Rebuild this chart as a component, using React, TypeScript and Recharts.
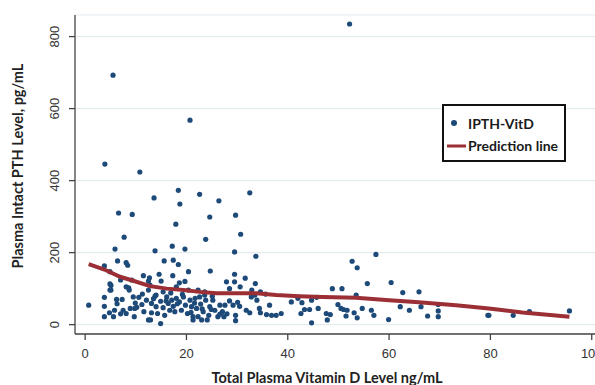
import React from "react";
import { ScatterChart, Scatter, XAxis, YAxis, CartesianGrid } from "recharts";

// Observed data points: total plasma vitamin D (ng/mL) and intact PTH (pg/mL)
const vitD: number[] = [
  52.2, 5.5, 20.7, 3.9, 10.8, 13.6, 18.4, 22.6, 26.4, 32.5,
  6.6, 9.3, 18.7, 24.6, 29.7, 17.9, 30.7, 7.7, 23.8, 33.7,
  5.9, 13.8, 17.2, 19.7, 29.5, 6.4, 8.1, 8.4, 15.6, 17.4,
  18.4, 3.8, 4.9, 20.4, 24.7, 4.9, 4.9, 7.0, 8.1, 9.2,
  8.6, 11.5, 12.7, 12.5, 15.0, 14.6, 17.3, 18.6, 19.7, 20.4,
  18.0, 27.9, 28.5, 29.5, 29.5, 30.6, 31.6, 33.6, 32.9,
  0.7, 3.8, 3.8, 3.8, 4.8, 5.6, 5.8, 6.2, 7.3, 7.5,
  8.1, 8.9, 9.7, 9.5, 9.8, 10.6, 11.2, 11.6, 12.1, 12.5,
  13.1, 13.1, 14.0, 14.0, 14.3, 14.9, 14.9, 15.4, 15.7, 16.1,
  16.4, 16.7, 17.1, 17.4, 17.7, 18.0, 18.6, 19.0, 19.4, 19.8,
  20.2, 20.7, 21.0, 21.3, 21.7, 22.0, 22.3, 22.6, 22.8, 23.0,
  23.3, 23.6, 23.8, 24.1, 24.4, 24.6, 25.2, 25.6, 26.2, 26.6,
  27.1, 27.4, 28.5, 29.2, 29.7, 29.7, 30.5, 31.8, 32.5, 32.8,
  33.9, 34.4, 34.6, 35.8, 36.4, 36.8, 37.7, 38.7, 33.5, 34.6, 35.6,
  15.4, 13.8, 22.3, 23.6, 25.1, 27.6, 26.6, 21.3, 12.9, 5.1,
  5.1, 8.7, 12.8, 12.5, 9.9, 11.3, 6.3, 7.0, 10.2, 16.9,
  19.2, 21.6, 24.9, 28.0, 30.1, 20.9, 23.1, 18.2, 16.0, 13.5,
  40.7, 42.0, 42.8, 42.6, 43.3, 44.3, 44.7, 44.7, 45.7, 46.0,
  47.6, 47.8, 48.4, 48.8, 49.9, 50.5, 50.7, 51.0, 51.5, 51.7,
  52.7, 53.1, 53.5, 53.7, 53.7, 54.7, 55.7, 56.5, 57.0, 57.4,
  59.9, 60.4, 62.2, 62.7, 64.0, 65.9, 66.3, 67.6, 69.7, 69.7,
  69.7, 79.5, 79.7, 84.5, 87.7, 95.6,
];
const pth: number[] = [
  835, 693, 568, 446, 424, 352, 373, 362, 344, 366,
  310, 306, 335, 299, 304, 279, 251, 243, 237, 190,
  210, 205, 218, 210, 202, 177, 172, 165, 177, 179,
  167, 163, 147, 147, 149, 113, 96, 124, 105, 124,
  102, 136, 130, 121, 121, 140, 136, 116, 120, 96,
  105, 119, 100, 140, 119, 105, 129, 114, 96,
  54, 76, 51, 22, 33, 22, 40, 70, 70, 40,
  31, 45, 22, 77, 45, 76, 56, 36, 68, 13,
  59, 33, 82, 50, 31, 3, 65, 47, 26, 77,
  59, 40, 68, 51, 36, 73, 63, 40, 77, 54,
  31, 68, 50, 22, 73, 45, 22, 77, 57, 13,
  36, 82, 68, 13, 26, 50, 68, 40, 22, 54,
  36, 22, 66, 54, 26, 11, 51, 40, 33, 77,
  68, 45, 33, 28, 54, 26, 26, 31, 82, 91, 85,
  91, 79, 96, 91, 79, 54, 29, 13, 13, 109,
  96, 96, 110, 96, 60, 85, 58, 30, 48, 88,
  84, 60, 42, 30, 62, 34, 44, 58, 66, 72,
  63, 73, 61, 31, 42, 42, 68, 5, 76, 45,
  31, 13, 28, 100, 56, 45, 100, 42, 24, 40,
  176, 33, 82, 158, 19, 45, 114, 40, 26, 195,
  14, 117, 50, 89, 40, 91, 50, 24, 56, 38,
  22, 26, 26, 26, 36, 38,
];

// Prediction line
const predX: number[] = [0.7, 3.8, 6.9, 9.5, 12.8, 16.1, 19.4, 22.6, 25.9, 29.2, 33.8, 37.7, 42.3, 46.9, 53.5, 60, 65.9, 73.2, 79.7, 86.3, 95.6];
const predY: number[] = [168, 153, 133, 122, 107, 100, 96, 91, 87, 87, 87, 82, 79, 77, 75, 68, 62, 54, 45, 34, 22];

const xTicks: number[] = [0, 20, 40, 60, 80, 100];
const yTicks: number[] = [0, 200, 400, 600, 800];
const xTitle = "Total Plasma Vitamin D Level ng/mL";
const yTitle = "Plasma Intact PTH Level, pg/mL";
const seriesNames: string[] = ["IPTH-VitD", "Prediction line"];

const points = vitD.map((x, i) => ({ x, y: pth[i] }));
const pred = predX.map((x, i) => ({ x, y: predY[i] }));

const DOT = "#1d4a78";
const LINE = "#9b2f35";
const AXIS = "#444";
const TICKFONT = "'Liberation Sans', Arial, sans-serif";
const TITLEFONT = "Lato, 'Open Sans', sans-serif";

const YTick = (props: any) => {
  const { y, payload } = props;
  const x = 59.5;
  return (
    <text x={x} y={y} transform={`rotate(-90 ${x} ${y})`} textAnchor="middle" fill="#333" fontSize={13} fontFamily={TICKFONT}>
      {payload.value}
    </text>
  );
};

const Dot = (props: any) => <circle cx={props.cx} cy={props.cy} r={2.6} fill={DOT} />;
const NoShape = () => <g />;

export default function App() {
  return (
    <div style={{ position: "absolute", left: 0, top: 0, width: 595, height: 385, overflow: "hidden", background: "#fff" }}>
      <ScatterChart width={620} height={385} margin={{ top: 15, right: 8, bottom: 21, left: 15 }}>
        <CartesianGrid vertical={false} stroke="#e3ecef" strokeWidth={1.2} />
        <XAxis
          type="number"
          dataKey="x"
          domain={[-2, 104]}
          ticks={xTicks}
          allowDataOverflow
          height={30}
          tickSize={6}
          tickMargin={9}
          stroke={AXIS}
          strokeWidth={1.3}
          tick={{ fill: "#333", fontSize: 13, fontFamily: TICKFONT }}
        />
        <YAxis
          type="number"
          dataKey="y"
          domain={[-26, 860]}
          ticks={yTicks}
          allowDataOverflow
          width={60}
          tickSize={6}
          stroke={AXIS}
          strokeWidth={1.3}
          tick={<YTick />}
        />
        <Scatter name={seriesNames[0]} data={points} shape={<Dot />} isAnimationActive={false} />
        <Scatter
          name={seriesNames[1]}
          data={pred}
          shape={<NoShape />}
          line={{ stroke: LINE, strokeWidth: 4 }}
          lineJointType="linear"
          isAnimationActive={false}
        />
        <g>
          <text x={327} y={383} textAnchor="middle" fontSize={14.5} fontWeight="bold" fill="#222" fontFamily={TITLEFONT}>
            {xTitle}
          </text>
          <text x={23} y={166} transform="rotate(-90 23 166)" textAnchor="middle" fontSize={14.5} fontWeight="bold" fill="#222" fontFamily={TITLEFONT}>
            {yTitle}
          </text>
          <rect x={443} y={105} width={122} height={56} fill="#fff" stroke="#111" strokeWidth={2} />
          <circle cx={454} cy={123} r={3} fill={DOT} />
          <text x={468} y={129} fontSize={14} fontWeight="bold" fill="#1a1a1a" fontFamily={TITLEFONT}>
            {seriesNames[0]}
          </text>
          <line x1={447} y1={146} x2={466} y2={146} stroke={LINE} strokeWidth={3} />
          <text x={468} y={151} fontSize={14} fontWeight="bold" fill="#1a1a1a" fontFamily={TITLEFONT}>
            {seriesNames[1]}
          </text>
        </g>
      </ScatterChart>
    </div>
  );
}
